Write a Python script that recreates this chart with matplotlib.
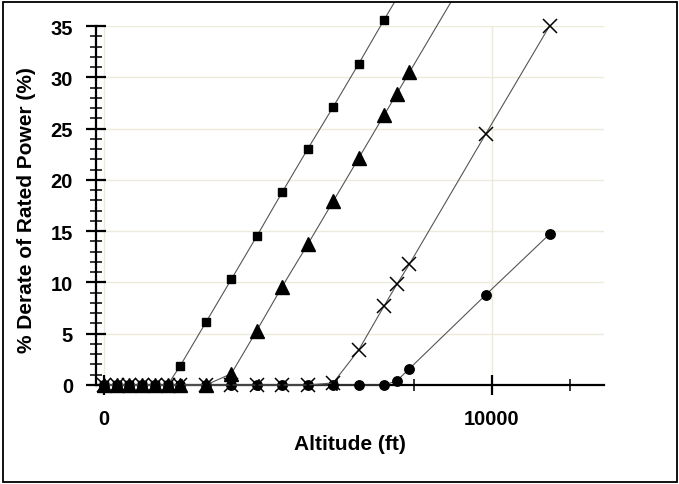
import matplotlib
matplotlib.use("Agg")
import matplotlib.pyplot as plt
from matplotlib.patches import Rectangle
from matplotlib.ticker import MultipleLocator

# Altitude (ft) and % derate for each curve
alt_sq = [0, 328, 656, 984, 1312, 1640, 1969, 2625, 3281, 3937, 4593, 5249, 5906, 6562, 7218, 7874]
derate_sq = [0, 0, 0, 0, 0, 0, 1.9, 6.1, 10.3, 14.5, 18.8, 23.0, 27.1, 31.3, 35.6, 39.8]

alt_tri = [0, 328, 656, 984, 1312, 1640, 1969, 2625, 3281, 3937, 4593, 5249, 5906, 6562, 7218, 7546, 7874, 9843]
derate_tri = [0, 0, 0, 0, 0, 0, 0, 0, 1.1, 5.3, 9.6, 13.7, 17.9, 22.1, 26.3, 28.4, 30.5, 43.1]

alt_x = [0, 328, 656, 984, 1312, 1640, 1969, 2625, 3281, 3937, 4593, 5249, 5906, 6562, 7218, 7546, 7874, 9843, 11483]
derate_x = [0, 0, 0, 0, 0, 0, 0, 0, 0, 0, 0, 0, 0.2, 3.4, 7.7, 9.8, 11.8, 24.5, 35.0]

alt_c = [0, 328, 656, 984, 1312, 1640, 1969, 2625, 3281, 3937, 4593, 5249, 5906, 6562, 7218, 7546, 7874, 9843, 11483]
derate_c = [0, 0, 0, 0, 0, 0, 0, 0, 0, 0, 0, 0, 0, 0, 0, 0.4, 1.6, 8.8, 14.7]

xlabel = "Altitude (ft)"
ylabel = "% Derate of Rated Power (%)"

W, H = 679, 485
fig = plt.figure(figsize=(W / 100, H / 100), dpi=100)
plt.rcParams['font.family'] = ['Liberation Sans', 'DejaVu Sans']

ax = fig.add_axes([96 / W, (H - 386) / H, (604 - 96) / W, (386 - 27) / H])
ax.set_xlim(-206, 12887)
ax.set_ylim(0, 35)

frame = Rectangle((3 / W, 2 / H), 674 / W, 480 / H, transform=fig.transFigure,
                  fill=False, edgecolor='black', linewidth=1.3, zorder=10)
fig.patches.append(frame)

line_color = '#555555'
series = [
    (alt_c, derate_c, dict(marker='o', ms=6.8)),
    (alt_x, derate_x, dict(marker='x', ms=9.5, mew=1.1)),
    (alt_tri, derate_tri, dict(marker='^', ms=10.5)),
    (alt_sq, derate_sq, dict(marker='s', ms=6.3)),
]
for xs, ys, mk in series:
    ln, = ax.plot(xs, ys, color=line_color, lw=0.8, markerfacecolor='black',
                  markeredgecolor='black', zorder=5, **mk)
    ln.set_clip_path(frame)

ax.spines['top'].set_visible(False)
ax.spines['right'].set_visible(False)
ax.spines['left'].set_linewidth(1.6)
ax.spines['bottom'].set_linewidth(1.6)

ax.xaxis.set_major_locator(MultipleLocator(10000))
ax.xaxis.set_minor_locator(MultipleLocator(2000))
ax.yaxis.set_major_locator(MultipleLocator(5))
ax.yaxis.set_minor_locator(MultipleLocator(1))

ax.tick_params(axis='both', which='major', direction='inout', length=15, width=1.6,
               labelsize=14.5)
ax.tick_params(axis='both', which='minor', direction='inout', length=9, width=1.1)
ax.tick_params(axis='x', which='major', pad=9.5)
ax.tick_params(axis='y', which='major', pad=9)
for lab in ax.get_xticklabels() + ax.get_yticklabels():
    lab.set_fontweight('bold')

ax.grid(True, which='major', color='#ECEADB', linewidth=1.0, zorder=0)
ax.set_axisbelow(True)

ax.set_xlabel(xlabel, fontsize=15, fontweight='bold')
ax.set_ylabel(ylabel, fontsize=15, fontweight='bold')
ax.xaxis.set_label_coords(0.5, (386 - 445) / 359)
ax.xaxis.label.set_va('center')
ax.yaxis.set_label_coords((27 - 96) / 508, 0.49)
ax.yaxis.label.set_va('center')

fig.savefig('out.png', dpi=100)
